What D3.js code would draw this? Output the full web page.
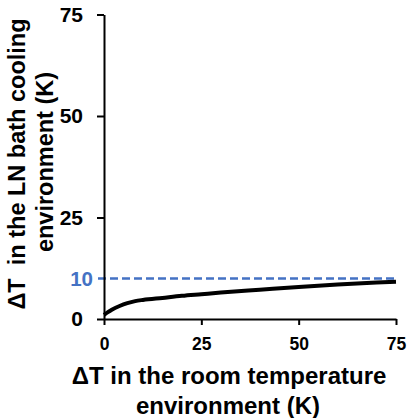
<!DOCTYPE html>
<html>
<head>
<meta charset="utf-8">
<script src="https://cdn.jsdelivr.net/npm/d3@7/dist/d3.min.js"></script>
<style>
  html, body { margin: 0; padding: 0; background: #fff; }
</style>
</head>
<body>
<svg id="chart" width="409" height="418"></svg>
<script>
// dT in room temperature env vs dT in LN bath cooling env
const roomDT = [0, 1, 2, 4, 6, 8, 10, 15, 20, 25, 30, 40, 50, 60, 70, 75];
const lnDT = [1.0, 1.7, 2.3, 3.2, 3.9, 4.4, 4.7, 5.2, 5.7, 6.1, 6.5, 7.2, 7.9, 8.5, 9.0, 9.2];
const xTicks = [0, 25, 50, 75];
const yTicks = [0, 25, 50, 75];
const refLevel = 10;

const FONT = "Liberation Sans, Arial, sans-serif";
const svg = d3.select("#chart");

const x = d3.scaleLinear().domain([0, 75]).range([104, 396]);
const y = d3.scaleLinear().domain([0, 75]).range([319, 14.5]);

// reference line at 10 K
svg.append("line")
  .attr("x1", 98)
  .attr("x2", x(75))
  .attr("y1", y(refLevel))
  .attr("y2", y(refLevel))
  .attr("stroke", "#4472C4")
  .attr("stroke-width", 2.5)
  .attr("stroke-dasharray", "8,4");

svg.append("text")
  .attr("x", 93)
  .attr("y", y(refLevel))
  .attr("dy", "0.35em")
  .attr("text-anchor", "end")
  .attr("fill", "#4472C4")
  .attr("font-family", FONT)
  .attr("font-weight", "bold")
  .attr("font-size", 20.5)
  .text(refLevel);

const yAxis = svg.append("g")
  .attr("transform", `translate(${x(0)},0)`)
  .call(d3.axisLeft(y).tickValues(yTicks).tickSize(7).tickSizeOuter(0).tickPadding(14));
yAxis.selectAll("text").attr("font-size", 21).attr("fill", "#000")
  .attr("font-family", FONT).attr("font-weight", "bold");

const xAxis = svg.append("g")
  .attr("transform", `translate(0,${y(0)})`)
  .call(d3.axisBottom(x).tickValues(xTicks).tickSize(6).tickSizeOuter(0).tickPadding(13));
xAxis.selectAll("text").attr("font-size", 17.5).attr("fill", "#000")
  .attr("font-family", FONT).attr("font-weight", "bold");

svg.selectAll(".domain, .tick line").attr("stroke", "#000").attr("stroke-width", 2);

const line = d3.line()
  .x((d, i) => x(roomDT[i]))
  .y(d => y(d))
  .curve(d3.curveMonotoneX);

svg.append("path")
  .datum(lnDT)
  .attr("d", line)
  .attr("fill", "none")
  .attr("stroke", "#000")
  .attr("stroke-width", 4);

// axis titles
const xTitle = svg.append("text")
  .attr("text-anchor", "middle")
  .attr("font-family", FONT)
  .attr("font-weight", "bold")
  .attr("font-size", 24)
  .attr("fill", "#000");
xTitle.append("tspan").attr("x", 229).attr("y", 384).text("ΔT in the room temperature");
xTitle.append("tspan").attr("x", 228).attr("y", 414).text("environment (K)");

const yTitle = svg.append("text")
  .attr("transform", "rotate(-90)")
  .attr("text-anchor", "middle")
  .attr("font-family", FONT)
  .attr("font-weight", "bold")
  .attr("font-size", 23.5)
  .attr("fill", "#000")
  .style("white-space", "pre");
yTitle.append("tspan").attr("x", -164).attr("y", 25).text("ΔT  in the LN bath cooling");
yTitle.append("tspan").attr("x", -162).attr("y", 53).text("environment (K)");
</script>
</body>
</html>
